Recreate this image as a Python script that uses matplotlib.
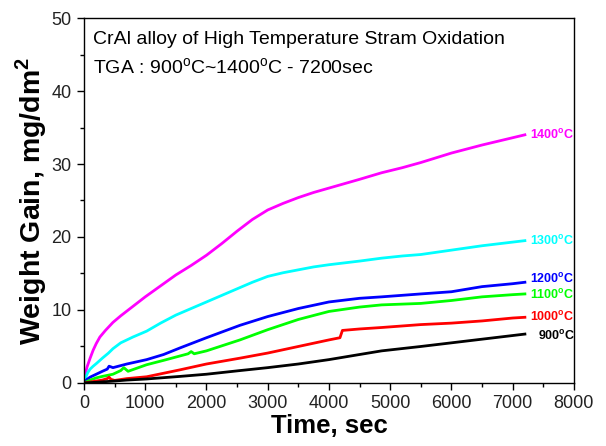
import matplotlib
matplotlib.use("Agg")
import matplotlib.pyplot as plt
import numpy as np
from matplotlib.ticker import MultipleLocator

plt.rcParams['font.family'] = ['Liberation Sans', 'DejaVu Sans']
plt.rcParams['mathtext.fontset'] = 'custom'
plt.rcParams['mathtext.rm'] = 'Liberation Sans'
plt.rcParams['mathtext.bf'] = 'Liberation Sans:bold'

t_1400 = [0, 20, 50, 100, 150, 200, 260, 350, 473, 600, 800, 1000, 1250, 1500, 1750, 2000, 2250, 2500, 2750, 3000,
          3250, 3500, 3750, 4000, 4250, 4500, 4860, 5200, 5500, 6000, 6500, 7000, 7200]
w_1400 = [0, 1.2, 2.2, 3.4, 4.5, 5.4, 6.3, 7.2, 8.3, 9.2, 10.5, 11.8, 13.3, 14.8, 16.1, 17.5, 19.1, 20.8, 22.4, 23.7,
          24.6, 25.4, 26.1, 26.7, 27.3, 27.9, 28.8, 29.5, 30.2, 31.5, 32.6, 33.6, 34.0]

t_1300 = [0, 30, 60, 100, 150, 207, 300, 400, 473, 600, 800, 1023, 1250, 1500, 1750, 2000, 2250, 2500, 2750, 3000,
          3250, 3500, 3750, 4000, 4500, 4860, 5200, 5500, 6000, 6500, 7000, 7200]
w_1300 = [0, 0.8, 1.4, 1.9, 2.3, 2.7, 3.4, 4.1, 4.7, 5.5, 6.3, 7.1, 8.2, 9.3, 10.2, 11.1, 12.0, 12.9, 13.8, 14.6,
          15.1, 15.5, 15.9, 16.2, 16.7, 17.1, 17.4, 17.6, 18.2, 18.8, 19.3, 19.5]

t_1200 = [0, 50, 100, 200, 300, 380, 410, 473, 700, 1023, 1300, 1567, 2000, 2547, 3000, 3500, 4000, 4500, 4860,
          5500, 6000, 6500, 7000, 7200]
w_1200 = [0, 0.5, 0.8, 1.2, 1.6, 1.9, 2.3, 2.1, 2.6, 3.2, 3.9, 4.8, 6.2, 7.9, 9.1, 10.2, 11.1, 11.6, 11.8,
          12.2, 12.5, 13.2, 13.6, 13.8]

t_1100 = [0, 100, 200, 300, 473, 600, 650, 720, 1023, 1300, 1567, 1700, 1750, 1800, 2000, 2547, 3000, 3500, 4000,
          4500, 4860, 5500, 6000, 6500, 7000, 7200]
w_1100 = [0, 0.4, 0.7, 0.9, 1.2, 1.7, 2.1, 1.6, 2.5, 3.1, 3.7, 4.0, 4.3, 4.0, 4.4, 5.9, 7.3, 8.7, 9.8,
          10.4, 10.7, 10.9, 11.3, 11.8, 12.1, 12.2]

t_1000 = [0, 150, 300, 380, 408, 440, 500, 700, 1023, 1567, 2000, 2547, 3000, 3500, 4000, 4180, 4220, 4500, 4860,
          5500, 6000, 6500, 7000, 7200]
w_1000 = [0, 0.2, 0.4, 0.6, 0.8, 0.5, 0.35, 0.6, 0.85, 1.8, 2.6, 3.4, 4.1, 5.0, 5.9, 6.2, 7.2, 7.4, 7.6,
          8.0, 8.2, 8.5, 8.9, 9.0]

t_900 = [0, 200, 473, 700, 1023, 1567, 2000, 2547, 3000, 3500, 4000, 4500, 4860, 5500, 6000, 6500, 7000, 7200]
w_900 = [0, 0.1, 0.25, 0.4, 0.55, 0.9, 1.2, 1.7, 2.1, 2.6, 3.2, 3.9, 4.4, 5.0, 5.5, 6.0, 6.5, 6.7]

series = [
    ("1400", t_1400, w_1400, "#ff00ff"),
    ("1300", t_1300, w_1300, "#00ffff"),
    ("1200", t_1200, w_1200, "#0000ff"),
    ("1100", t_1100, w_1100, "#00ff00"),
    ("1000", t_1000, w_1000, "#ff0000"),
    ("900", t_900, w_900, "#000000"),
]
label_y = {"1400": 34.0, "1300": 19.5, "1200": 14.2, "1100": 12.0, "1000": 9.0, "900": 6.4}
label_x = {"1400": 7280, "1300": 7280, "1200": 7280, "1100": 7280, "1000": 7280, "900": 7420}

fig = plt.figure(figsize=(6.06, 4.46), dpi=100)
ax = fig.add_axes([0.1386, 0.1413, 0.8084, 0.8183])

for name, t, w, c in series:
    ax.plot(t, w, color=c, lw=2.0, solid_joinstyle='round')
    ax.text(label_x[name], label_y[name], name + r'$^{\mathbf{o}}$C', color=c,
            fontsize=9, fontweight='bold', va='center', ha='left')

ax.set_xlim(0, 8000)
ax.set_ylim(0, 50)
ax.xaxis.set_major_locator(MultipleLocator(1000))
ax.xaxis.set_minor_locator(MultipleLocator(500))
ax.yaxis.set_major_locator(MultipleLocator(10))
ax.yaxis.set_minor_locator(MultipleLocator(5))
ax.tick_params(which='both', direction='out', top=False, right=False, labelsize=13, width=1.0,
               labelcolor='#222222')
ax.tick_params(which='major', length=5, pad=4)
ax.tick_params(which='minor', length=3)
for s in ax.spines.values():
    s.set_linewidth(1.0)

ax.set_xlabel('Time, sec', fontsize=18.5, fontweight='bold', labelpad=1)
ax.set_ylabel(r'Weight Gain, mg/dm$^{\mathbf{2}}$', fontsize=20.5, fontweight='bold', labelpad=2)

ax.text(0.018, 0.94, 'CrAl alloy of High Temperature Stram Oxidation', transform=ax.transAxes,
        fontsize=14, va='center', ha='left')
ax.text(0.018, 0.863, r'TGA : 900$^{\mathrm{o}}$C~1400$^{\mathrm{o}}$C - 7200sec', transform=ax.transAxes,
        fontsize=14, va='center', ha='left')

fig.savefig('out.png', dpi=100)
